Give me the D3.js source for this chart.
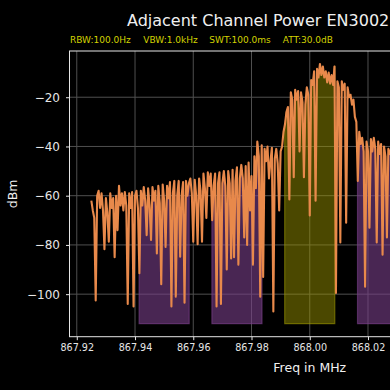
<!DOCTYPE html>
<html>
<head>
<meta charset="utf-8">
<script src="https://cdn.jsdelivr.net/npm/d3@7"></script>
<style>
  html, body { margin: 0; padding: 0; background: #000; }
  svg { display: block; }
  text { font-family: "DejaVu Sans", sans-serif; }
</style>
</head>
<body>
<svg id="chart" width="390" height="390"></svg>
<script>
// ---------------- data ----------------
const titleText = "Adjacent Channel Power EN3002";
const settingLabels = ["RBW:100.0Hz", "VBW:1.0kHz", "SWT:100.0ms", "ATT:30.0dB"];
const xLabel = "Freq in MHz";
const yLabel = "dBm";

const freqStart = 867.925;   // MHz
const freqStep = 0.0005;     // MHz per sample
const levels = [
  -62, -66, -69, -102.6, -60, -58, -65, -59, -66, -81.7,
  -61, -67, -78.7, -59, -65, -61, -85, -60, -74, -56,
  -64, -59, -66, -58.5, -64, -104, -59, -65, -58.5, -105,
  -60, -58, -65, -91.5, -58, -64, -56.5, -62, -76, -57,
  -64, -78, -56.5, -62, -58, -83.5, -56, -63, -96, -55.5,
  -62, -80.8, -56, -61, -54.5, -105, -59, -54, -101, -60,
  -54, -84.8, -60, -54.5, -103.5, -54, -60, -55, -53, -59,
  -78.7, -53.5, -60, -79.7, -53, -58, -78.7, -51, -57, -69,
  -50.5, -56, -51, -70, -56, -51, -105, -55, -50.5, -104,
  -55, -50, -56, -90, -50, -55, -85.5, -49.5, -85, -54,
  -48.5, -88, -53, -47.5, -53, -77, -48, -80, -46.5, -66,
  -52, -88, -44, -57, -38, -44, -101, -39.5, -93, -41,
  -46, -40, -53, -46, -40.5, -107, -45, -41, -47, -66,
  -42, -40, -34, -31, -26, -24, -61.5, -18, -21, -52.5,
  -17, -21, -17.5, -42, -18, -22, -52.5, -23, -16, -19,
  -68, -13, -15, -9.5, -62, -8.5, -12, -6.5, -11, -7.5,
  -12, -9.5, -14, -10, -14.5, -11, -15, -7.5, -99.5, -13.5,
  -16, -79, -13.5, -17, -14.5, -71, -16, -20, -19, -23,
  -21, -28, -30, -54, -34, -39, -36.5, -42, -97, -38,
  -42, -73, -37, -42, -36.5, -41, -79, -38, -43, -39,
  -84, -40, -44, -77, -41, -43, -41, -88, -42, -44,
  -43, -95, -45, -44, -46, -70, -47, -46, -49, -48,
  -90, -49, -50, -48.5, -80, -50, -51, -49, -103, -51,
  -52, -50.5, -86, -52, -53, -51, -77, -53, -54, -52,
  -105, -54, -55, -53, -84, -55, -56, -54, -99, -56,
  -57, -55, -79, -57, -58, -56, -104, -58, -57, -59,
  -82, -58, -60, -59, -88, -60, -58, -61, -101, -59,
  -61, -60, -76, -61, -59, -62, -93, -60, -62, -61,
  -105, -62, -60, -63, -80, -61, -63, -62, -98, -63,
  -61, -64, -85, -62, -64, -63, -102, -63, -65, -62,
  -63
];

const channelCenters = [867.95, 867.975, 868.00, 868.025, 868.05];
const channelKinds   = ["adjacent", "adjacent", "main", "adjacent", "adjacent"];
const channelHalfWidth = 0.0086;  // MHz
const channelFloor = -112;        // dBm

const xTickValues = [867.92, 867.94, 867.96, 867.98, 868.00, 868.02, 868.04, 868.06, 868.08];
const yTickValues = [-100, -80, -60, -40, -20];

// ---------------- layout ----------------
const svg = d3.select("#chart");
const W = 390, H = 390;
const plot = { left: 69.5, top: 51, right: 550, bottom: 336.7 };

const samples = levels.map((v, i) => ({ f: freqStart + i * freqStep, v }));

const fExt = d3.extent(samples, d => d.f);
const fPad = (fExt[1] - fExt[0]) * 0.05;
const x = d3.scaleLinear().domain([fExt[0] - fPad, fExt[1] + fPad]).range([plot.left, plot.right]);

const vMin = Math.min(channelFloor, d3.min(levels));
const vMax = d3.max(levels);
const vPad = (vMax - vMin) * 0.05;
const y = d3.scaleLinear().domain([vMin - vPad, vMax + vPad]).range([plot.bottom, plot.top]);

svg.append("rect").attr("width", W).attr("height", H).attr("fill", "#000");

svg.append("defs").append("clipPath").attr("id", "plotclip")
  .append("rect")
  .attr("x", plot.left).attr("y", plot.top)
  .attr("width", plot.right - plot.left).attr("height", plot.bottom - plot.top);

// grid
const grid = svg.append("g").attr("clip-path", "url(#plotclip)");
grid.selectAll("line.vx").data(xTickValues).join("line")
  .attr("x1", d => x(d)).attr("x2", d => x(d))
  .attr("y1", plot.top).attr("y2", plot.bottom)
  .attr("stroke", "#4f4f4f").attr("stroke-width", 1);
grid.selectAll("line.hy").data(yTickValues).join("line")
  .attr("y1", d => y(d)).attr("y2", d => y(d))
  .attr("x1", plot.left).attr("x2", plot.right)
  .attr("stroke", "#4f4f4f").attr("stroke-width", 1);

// channel fills (area under trace inside each channel)
const fills = svg.append("g").attr("clip-path", "url(#plotclip)");
const area = d3.area().x(d => x(d.f)).y0(y(channelFloor)).y1(d => y(d.v));
channelCenters.forEach((c, k) => {
  const lo = c - channelHalfWidth, hi = c + channelHalfWidth;
  const inside = samples.filter(d => d.f >= lo && d.f <= hi);
  if (!inside.length) return;
  const pts = [{ f: lo, v: inside[0].v }, ...inside, { f: hi, v: inside[inside.length - 1].v }];
  const main = channelKinds[k] === "main";
  fills.append("path")
    .attr("d", area(pts))
    .attr("fill", main ? "#a09a00" : "#7a3f8a")
    .attr("fill-opacity", main ? 0.47 : 0.6)
    .attr("stroke", main ? "#a09a00" : "#7a3f8a")
    .attr("stroke-opacity", main ? 0.55 : 0.6)
    .attr("stroke-width", 1.2);
});

// trace
svg.append("g").attr("clip-path", "url(#plotclip)")
  .append("path")
  .datum(samples)
  .attr("d", d3.line().x(d => x(d.f)).y(d => y(d.v)))
  .attr("fill", "none")
  .attr("stroke", "#e8894b")
  .attr("stroke-width", 2.1)
  .attr("stroke-linejoin", "round");

// spines
svg.append("rect")
  .attr("x", plot.left).attr("y", plot.top)
  .attr("width", plot.right - plot.left).attr("height", plot.bottom - plot.top)
  .attr("fill", "none").attr("stroke", "#e6e6e6").attr("stroke-width", 1);

// axes (only ticks that fall inside the visible window)
const visibleXTicks = xTickValues.filter(d => x(d) < W - 20);
const xAxis = d3.axisBottom(x).tickValues(visibleXTicks).tickFormat(d3.format(".2f"))
  .tickSize(3.5).tickPadding(4);
const gx = svg.append("g").attr("transform", `translate(0,${plot.bottom})`).call(xAxis);
gx.select(".domain").remove();
gx.selectAll(".tick line").attr("stroke", "#e6e6e6");
gx.selectAll(".tick text").attr("fill", "#e6e6e6").attr("font-size", "9.6px")
  .attr("font-family", "DejaVu Sans, sans-serif");

const yAxis = d3.axisLeft(y).tickValues(yTickValues).tickFormat(d3.format("d"))
  .tickSize(3.5).tickPadding(6);
const gy = svg.append("g").attr("transform", `translate(${plot.left},0)`).call(yAxis);
gy.select(".domain").remove();
gy.selectAll(".tick line").attr("stroke", "#e6e6e6");
gy.selectAll(".tick text").attr("fill", "#e6e6e6").attr("font-size", "12px")
  .attr("font-family", "DejaVu Sans, sans-serif");

// labels
svg.append("text")
  .attr("x", (plot.left + plot.right) / 2).attr("y", 372)
  .attr("text-anchor", "middle").attr("fill", "#f0f0f0").attr("font-size", "12.5px")
  .text(xLabel);

svg.append("text")
  .attr("transform", `translate(17,${(plot.top + plot.bottom) / 2}) rotate(-90)`)
  .attr("text-anchor", "middle").attr("fill", "#f0f0f0").attr("font-size", "12.5px")
  .text(yLabel);

svg.append("text")
  .attr("x", 127).attr("y", 26)
  .attr("fill", "#f0f0f0").attr("font-size", "16px")
  .text(titleText);

const settingX = [70, 143.3, 209.3, 282.7];
svg.selectAll("text.setting").data(settingLabels).join("text")
  .attr("class", "setting")
  .attr("x", (d, i) => settingX[i]).attr("y", 43)
  .attr("fill", "#d2d200").attr("font-size", "9px")
  .text(d => d);
</script>
</body>
</html>
